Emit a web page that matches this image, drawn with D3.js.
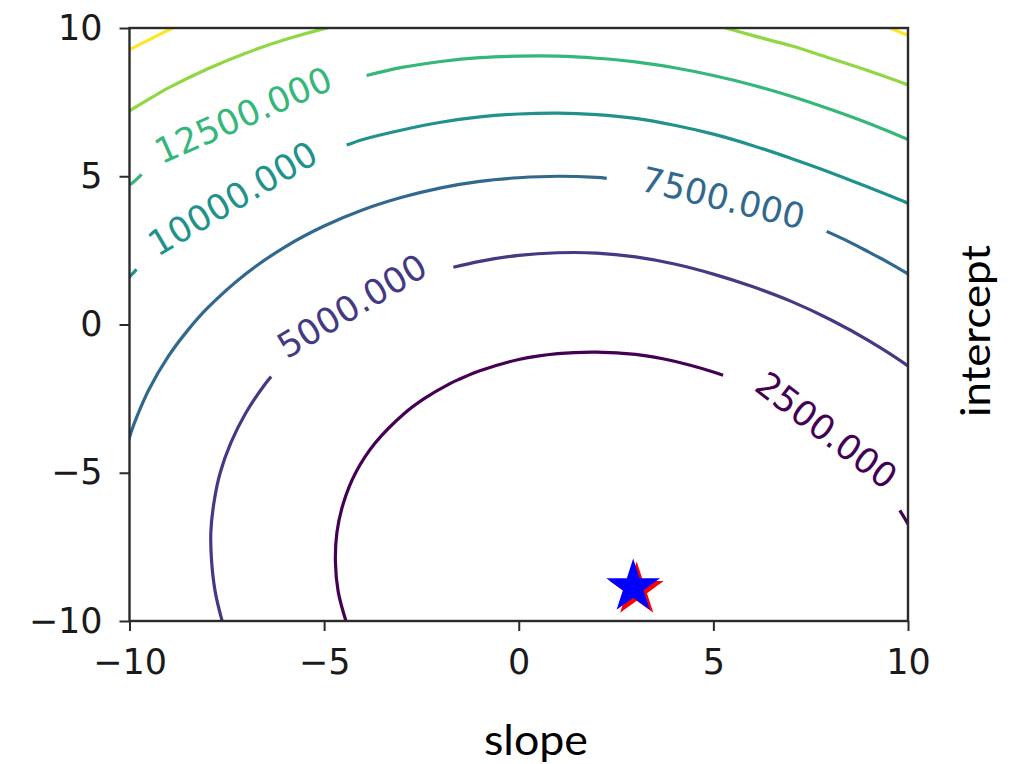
<!DOCTYPE html>
<html>
<head>
<meta charset="utf-8">
<script src="https://cdn.jsdelivr.net/npm/d3@7"></script>
<style>
  html, body { margin: 0; padding: 0; background: #ffffff; }
  svg { display: block; }
</style>
</head>
<body>
<svg id="chart" width="1012" height="764"></svg>
<script>
// ---- data -----------------------------------------------------------------
const slopeTicks = [-10, -5, 0, 5, 10];
const interceptTicks = [-10, -5, 0, 5, 10];
const levels = [2500, 5000, 7500, 10000, 12500, 15000, 17500];

// Iso-cost lines of the squared-error surface, as [slope, intercept] pairs.
// Each level is a list of pieces; the breaks leave room for the inline labels.
const cost2500 = [
  [[-4.36, -10.3], [-4.44, -10], [-4.64, -9], [-4.71, -8], [-4.67, -7], [-4.50, -6], [-4.19, -5],
   [-3.69, -4], [-2.94, -3], [-2.43, -2.5], [-1.78, -2], [-1.5, -1.83], [-1, -1.56], [0, -1.18],
   [1, -0.98], [2, -0.93], [3, -1.01], [4, -1.24], [5, -1.60], [5.25, -1.71]],
  [[9.79, -6.27], [10, -6.73], [10.2, -7.25]]
];
const cost5000 = [
  [[-7.55, -10.3], [-7.62, -10], [-7.80, -9], [-7.89, -8], [-7.91, -7], [-7.83, -6], [-7.67, -5],
   [-7.40, -4], [-7.02, -3], [-6.51, -2], [-6.36, -1.76]],
  [[-1.68, 1.93], [-1, 2.13], [0, 2.33], [1, 2.42], [2, 2.41], [3, 2.28], [4, 2.04], [5, 1.70],
   [6, 1.28], [7, 0.78], [8, 0.17], [9, -0.55], [10, -1.40], [10.2, -1.62]]
];
const cost7500 = [
  [[-10.05, -4.03], [-9.94, -3.56], [-9.8, -3.07], [-9.5, -2.19], [-9, -1.07], [-8.5, -0.19],
   [-8, 0.55], [-7, 1.72], [-6, 2.62], [-5, 3.32], [-4, 3.87], [-3, 4.29], [-2, 4.61],
   [-1, 4.83], [0, 4.95], [1, 5.0], [2, 4.96], [2.26, 4.93]],
  [[7.91, 3.14], [8.5, 2.78], [9, 2.44], [9.5, 2.09], [10, 1.71], [10.2, 1.55]]
];
const cost10000 = [
  [[-10.05, 1.53], [-9.94, 1.69], [-9.82, 1.86]],
  [[-4.42, 6.05], [-4, 6.24], [-3, 6.56], [-2, 6.82], [-1, 7.0], [0, 7.1], [1, 7.13], [2, 7.08],
   [3, 6.95], [4, 6.72], [5, 6.42], [6, 6.04], [7, 5.6], [8, 5.13], [9, 4.62], [10, 4.09],
   [10.2, 3.97]]
];
const cost12500 = [
  [[-10.05, 4.70], [-9.94, 4.76], [-9.69, 5.06]],
  [[-3.91, 8.40], [-3, 8.67], [-2, 8.87], [-1, 9.0], [0, 9.05], [1, 9.05], [2, 8.98], [3, 8.86],
   [4, 8.66], [5, 8.40], [6, 8.08], [7, 7.7], [8, 7.26], [9, 6.78], [10, 6.24], [10.2, 6.12]]
];
const cost15000 = [
  [[-10.05, 7.17], [-9.5, 7.6], [-9, 7.98], [-8, 8.62], [-7, 9.16], [-6, 9.61], [-5, 9.98],
   [-4.5, 10.13], [-4, 10.3]],
  [[4.6, 10.3], [5.2, 10.05], [6, 9.75], [7, 9.4], [8, 8.98], [9, 8.55], [10, 8.08], [10.2, 7.97]]
];
const cost17500 = [
  [[-10.1, 9.2], [-9.5, 9.6], [-8.9, 10.0], [-8.4, 10.3]],
  [[9.1, 10.3], [9.5, 10.02], [10, 9.76], [10.2, 9.66]]
];

// Where each level's value is written, in [slope, intercept].
const labelLevels = [2500, 5000, 7500, 10000, 12500];
const labelSlopes = [7.91, -4.29, 5.25, -7.35, -7.08];
const labelIntercepts = [-3.56, 0.63, 4.28, 4.26, 7.07];

// Parameter estimates marked with stars.
const trueSlope = 3.03, trueIntercept = -8.95;      // red
const fitSlope = 2.94, fitIntercept = -8.85;        // blue

// ---- layout ---------------------------------------------------------------
const plot = { left: 129.5, right: 908, top: 28, bottom: 621 };

const svg = d3.select("#chart");

const x = d3.scaleLinear().domain([-10, 10]).range([plot.left, plot.right]);
const y = d3.scaleLinear().domain([-10, 10]).range([plot.bottom, plot.top]);

const color = d3.scaleSequential(d3.interpolateViridis)
  .domain([d3.min(levels), d3.max(levels)]);

const costLines = [
  { level: 2500, pieces: cost2500 },
  { level: 5000, pieces: cost5000 },
  { level: 7500, pieces: cost7500 },
  { level: 10000, pieces: cost10000 },
  { level: 12500, pieces: cost12500 },
  { level: 15000, pieces: cost15000 },
  { level: 17500, pieces: cost17500 }
];

svg.append("defs").append("clipPath").attr("id", "plot-clip")
  .append("rect")
  .attr("x", plot.left).attr("y", plot.top)
  .attr("width", plot.right - plot.left).attr("height", plot.bottom - plot.top);

const line = d3.line()
  .x(d => x(d[0]))
  .y(d => y(d[1]))
  .curve(d3.curveCatmullRom.alpha(0.5));

const contourG = svg.append("g").attr("clip-path", "url(#plot-clip)");

costLines.forEach(c => {
  contourG.selectAll(null)
    .data(c.pieces)
    .enter().append("path")
    .attr("d", line)
    .attr("fill", "none")
    .attr("stroke", color(c.level))
    .attr("stroke-width", 3.2)
    .attr("stroke-linecap", "butt");
});

// inline labels, turned along the break in the line they sit in
const fmt = d3.format(".3f");
const labelG = svg.append("g");
labelLevels.forEach((lev, i) => {
  const pieces = costLines.find(c => c.level === lev).pieces;
  const cx = x(labelSlopes[i]), cy = y(labelIntercepts[i]);
  let best = null, bestD = Infinity;
  for (let k = 0; k < pieces.length - 1; k++) {
    const a = pieces[k][pieces[k].length - 1], b = pieces[k + 1][0];
    const mx = (x(a[0]) + x(b[0])) / 2, my = (y(a[1]) + y(b[1])) / 2;
    const dd = (mx - cx) ** 2 + (my - cy) ** 2;
    if (dd < bestD) { bestD = dd; best = [a, b]; }
  }
  const ang = Math.atan2(y(best[1][1]) - y(best[0][1]), x(best[1][0]) - x(best[0][0])) * 180 / Math.PI;
  labelG.append("text")
    .attr("transform", `translate(${cx},${cy}) rotate(${ang})`)
    .attr("text-anchor", "middle")
    .attr("dy", "0.36em")
    .attr("font-family", "DejaVu Sans")
    .attr("font-size", 35)
    .attr("fill", color(lev))
    .text(fmt(lev));
});

// stars
const star = d3.symbol().type(d3.symbolStar).size(900);
svg.append("path")
  .attr("d", star())
  .attr("transform", `translate(${x(trueSlope)},${y(trueIntercept)})`)
  .attr("fill", "#ff0000");
svg.append("path")
  .attr("d", star())
  .attr("transform", `translate(${x(fitSlope)},${y(fitIntercept)})`)
  .attr("fill", "#0000ff");

// frame
svg.append("rect")
  .attr("x", plot.left).attr("y", plot.top)
  .attr("width", plot.right - plot.left).attr("height", plot.bottom - plot.top)
  .attr("fill", "none").attr("stroke", "#2b2b2b").attr("stroke-width", 2.4);

// axes
const tickFont = { family: "DejaVu Sans", size: 35, color: "#1a1a1a" };
const minus = v => d3.format("d")(v).replace("-", "\u2212");

const xAxis = svg.append("g")
  .attr("transform", `translate(0,${plot.bottom})`)
  .call(d3.axisBottom(x).tickValues(slopeTicks).tickSize(10).tickPadding(18).tickFormat(minus));
const yAxis = svg.append("g")
  .attr("transform", `translate(${plot.left},0)`)
  .call(d3.axisLeft(y).tickValues(interceptTicks).tickSize(10).tickPadding(17).tickFormat(minus));

[xAxis, yAxis].forEach(g => {
  g.select(".domain").remove();
  g.selectAll(".tick line").attr("stroke", "#2b2b2b").attr("stroke-width", 2);
  g.selectAll(".tick text")
    .attr("font-family", tickFont.family)
    .attr("font-size", tickFont.size)
    .attr("fill", tickFont.color);
});

// axis titles
svg.append("text")
  .attr("x", 536).attr("y", 755)
  .attr("text-anchor", "middle")
  .attr("font-family", "Lato, 'Open Sans', sans-serif")
  .attr("font-size", 42)
  .attr("textLength", 104).attr("lengthAdjust", "spacingAndGlyphs")
  .attr("fill", "#000")
  .text("slope");

svg.append("text")
  .attr("transform", "translate(990,331) rotate(-90)")
  .attr("text-anchor", "middle")
  .attr("font-family", "Lato, 'Open Sans', sans-serif")
  .attr("font-size", 40)
  .attr("textLength", 172).attr("lengthAdjust", "spacingAndGlyphs")
  .attr("fill", "#000")
  .text("intercept");
</script>
</body>
</html>
